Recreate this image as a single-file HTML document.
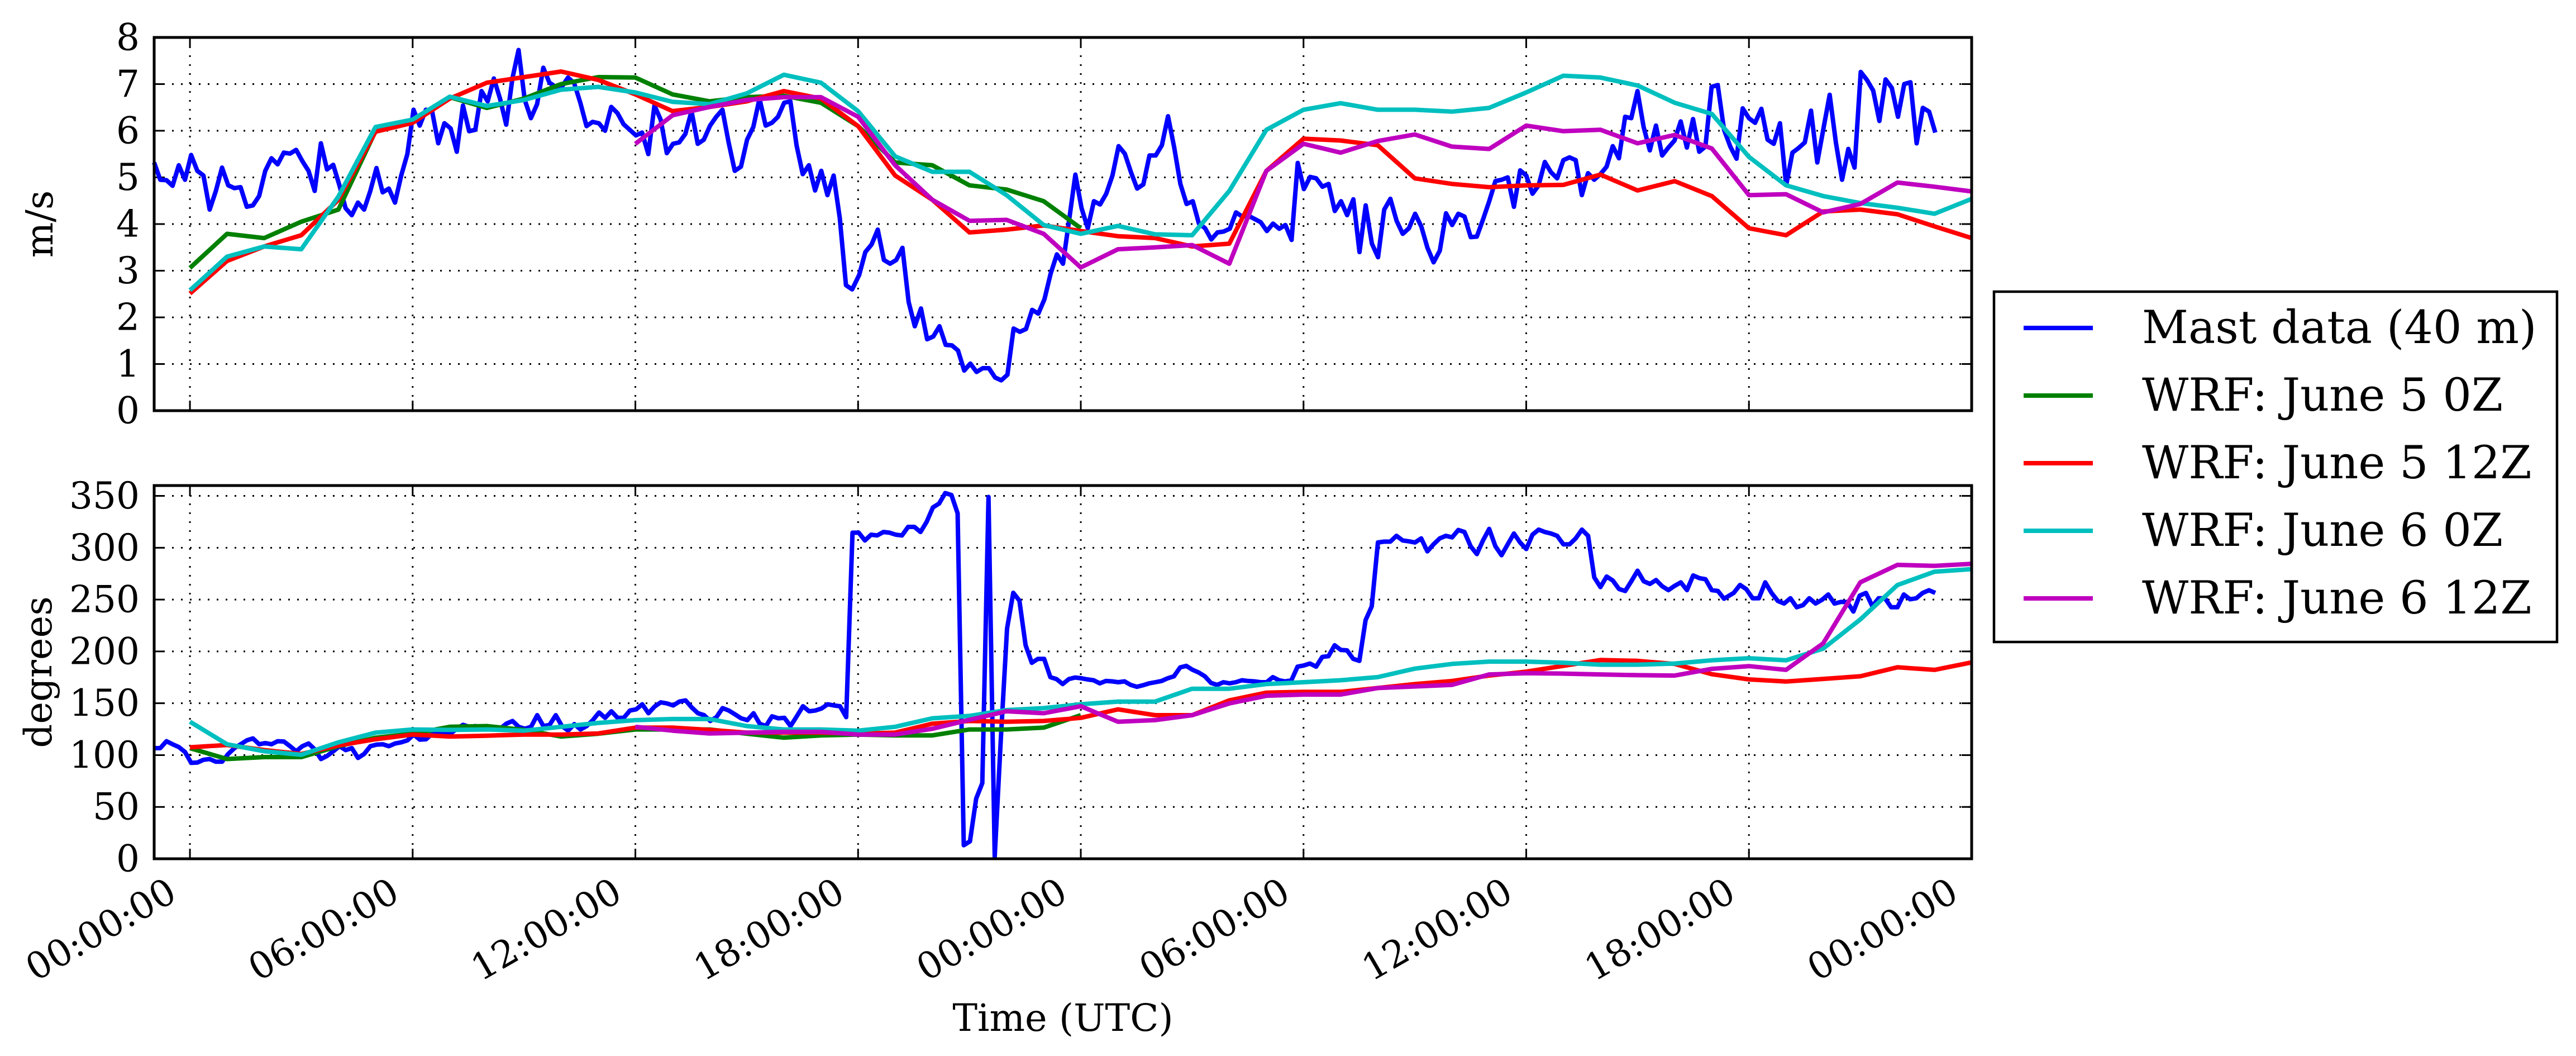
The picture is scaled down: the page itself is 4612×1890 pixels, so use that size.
<!DOCTYPE html>
<html><head><meta charset="utf-8"><style>
html,body{margin:0;padding:0;background:#fff;}
svg{display:block;font-family:"DejaVu Serif","Liberation Serif",serif;}
</style></head><body>
<svg id="chart" width="4612" height="1890" viewBox="0 0 4612 1890" xmlns="http://www.w3.org/2000/svg">
<rect width="4612" height="1890" fill="#fff"/>
<g id="top"></g>
<g id="bot"></g>
<text x="0" y="0" font-size="67" text-anchor="middle" dominant-baseline="central" transform="translate(71,401) rotate(-90)">m/s</text>
<text x="0" y="0" font-size="67" text-anchor="middle" dominant-baseline="central" transform="translate(69,1203) rotate(-90)">degrees</text>
<text x="1903" y="1822" font-size="67" text-anchor="middle" dominant-baseline="central">Time (UTC)</text>
<g id="legend"></g>
</svg>
<script>
// ---- data ----
const xTickHours = [0,6,12,18,24,30,36,42,48];
const xTickLabels = ["00:00:00","06:00:00","12:00:00","18:00:00","00:00:00","06:00:00","12:00:00","18:00:00","00:00:00"];
const speedTicks = [0,1,2,3,4,5,6,7,8];
const dirTicks = [0,50,100,150,200,250,300,350];
const seriesNames = ["Mast data (40 m)","WRF: June 5 0Z","WRF: June 5 12Z","WRF: June 6 0Z","WRF: June 6 12Z"];
const seriesColors = ["#0000ff","#008000","#ff0000","#00bfbf","#bf00bf"];

// mast data: segments [startHour, endHour] with evenly spaced samples
const mastSpdSegHours = [[-0.966,17.84],[18.03,41.16],[41.33,47.02]];
const mastSpdA = [5.32,4.95,4.94,4.82,5.26,4.95,5.48,5.14,5.04,4.31,4.71,5.21,4.83,4.77,4.79,4.37,4.40,4.60,5.14,5.41,5.28,5.53,5.51,5.59,5.35,5.14,4.71,5.73,5.17,5.27,4.83,4.34,4.19,4.46,4.31,4.71,5.20,4.68,4.76,4.46,5.04,5.50,6.45,6.11,6.45,6.42,5.73,6.16,6.05,5.55,6.54,5.99,6.02,6.85,6.63,7.12,6.69,6.13,7.12,7.73,6.66,6.27,6.57,7.35,7.03,6.94,6.94,7.14,7.02,6.60,6.10,6.19,6.16,6.00,6.51,6.38,6.14,6.02,5.90,5.96,5.50,6.54,6.24,5.52,5.72,5.75,5.93,6.42,5.72,5.81,6.11,6.30,6.45,5.75,5.14,5.23,5.81,6.08,6.69,6.11,6.17,6.30,6.60,6.63,5.69,5.07,5.26,4.72,5.14,4.62,5.04,4.13,2.69,2.60];
const mastSpdB = [2.91,3.40,3.56,3.88,3.23,3.15,3.23,3.49,2.33,1.81,2.19,1.53,1.59,1.81,1.41,1.40,1.29,0.86,1.01,0.83,0.91,0.91,0.71,0.65,0.77,1.76,1.69,1.75,2.16,2.08,2.39,2.94,3.35,3.15,4.10,5.06,4.34,3.91,4.49,4.42,4.65,5.04,5.67,5.51,5.11,4.76,4.85,5.47,5.47,5.69,6.31,5.64,4.86,4.43,4.49,4.01,3.91,3.67,3.82,3.84,3.90,4.25,4.16,4.18,4.11,4.04,3.85,4.01,3.90,3.98,3.66,5.31,4.75,5.01,4.98,4.80,4.86,4.28,4.49,4.19,4.53,3.40,4.40,3.58,3.29,4.31,4.54,4.07,3.79,3.91,4.22,3.95,3.49,3.18,3.43,4.23,3.98,4.22,4.16,3.72,3.73,4.10,4.49,4.92,4.95,5.00,4.37,5.15,5.04,4.65,4.83,5.33,5.11,4.98,5.37,5.43,5.37,4.62,5.09,4.95,5.07,5.23,5.67,5.41,6.30,6.27,6.85,6.08,5.58,6.11,5.47,5.64,5.79,6.20,5.64,6.25,5.55,5.66,6.94,6.98];
const mastSpdC = [6.02,5.66,5.40,6.48,6.27,6.17,6.47,5.81,5.72,6.16,4.83,5.53,5.63,5.75,6.43,5.32,6.05,6.77,5.75,4.95,5.61,5.21,7.26,7.09,6.86,6.21,7.10,6.92,6.30,7.00,7.04,5.73,6.49,6.41,5.96];
const mastDirSegHours = [[-0.966,17.68],[17.85,41.33],[41.59,47.02]];
const mastDirA = [106.7,106.7,113.4,110.4,107.8,103,92.5,92.8,95.5,96.2,93.6,93.6,101.1,106.7,110.4,114.2,116.1,110.4,111.6,110.4,113.4,113.1,108.6,103.7,108.6,111.2,105.6,96.2,99.2,103.7,108.6,104.8,106.7,97.3,101.1,108.6,110.1,110.4,108.6,111.2,112.3,114.2,119.8,114.9,115.3,120.6,120.6,121.7,120.9,125.4,129.2,127.3,128,125.4,127.3,125.4,125.4,130.3,132.9,127.3,125.4,127.3,138.5,128,129.2,138.5,128,123.6,129.9,124.7,128,133.7,141.1,135.9,142.3,135.9,135.9,143,144.1,149,140.4,146.8,150.9,149.8,147.9,151.6,152.8,146,140.4,138.5,132.9,136.6,145.3,143,139.3,135.5,133.7,140.4,130.3,128,137.4,135.5,135.9,128,137.4,147.1,142.3,143,144.9,149,147.9,147.1,136.6];
const mastDirB = [314.5,314.5,307,312.6,311.9,315.2,314.5,312.6,311.9,320.1,320.1,315.2,325,338.8,342.6,352.7,350.9,333.2,13.1,16.8,58,73,349,1.9,116,222,256.5,249,206,189,192.8,192.8,175.2,173.3,168.5,173.3,174.8,174.1,173,172.2,169.2,171.5,171.1,170.3,171.1,167.7,165.9,167.4,169.2,170.3,171.5,174.1,176,184.6,186.1,182.3,179.7,176,169.6,167.7,170.3,169.2,170.3,172.2,171.5,171.1,170.3,170.3,175.2,172.2,171.1,172.2,185.3,186.4,188.3,185.3,194.7,195.4,205.9,201.4,201,192.8,190.9,230.2,243.4,305.1,305.9,305.9,311.5,307,306.2,305.1,309,296.5,303.3,309,311.5,310,317.1,315.2,301.4,293.9,307,318.2,301.4,292.8,303.3,313.7,305.1,298.8,312.6,317.5,315.2,313.7,311.5,303.3,303.3,309,317.5,311.5,271.4,262.1,272.2,268.4,260.2,258.3,267.7,277.8,267.7,265.1,268.8,262.8,259.1,263.2,266.6,259.1,273.3,270.7,269.6,259.1,258.3,250.8];
const mastDirC = [256.4,264.1,260,251.3,251.3,266.6,256.4,248.7,246.2,251.3,242.6,244.6,251.3,246.2,249.7,254.9,246.2,247.7,247.7,238.5,253.8,256.4,243.6,251.3,251.3,242.6,242.6,254.9,250.3,251.3,256.4,259,256.4];

// WRF forecasts: hourly values from start hour
const wrfStartHours = [0,0,0,12];
const j50Spd = [3.06,3.79,3.70,4.05,4.31,5.99,6.2,6.72,6.49,6.69,7.0,7.15,7.14,6.78,6.63,6.72,6.75,6.6,6.1,5.32,5.26,4.83,4.74,4.49,3.91];
const j512Spd = [2.51,3.21,3.52,3.76,4.52,5.98,6.17,6.69,7.03,7.15,7.27,7.09,6.78,6.42,6.51,6.63,6.85,6.69,6.1,5.04,4.52,3.82,3.88,3.97,3.85,3.74,3.70,3.52,3.58,5.14,5.83,5.79,5.69,4.98,4.86,4.79,4.83,4.84,5.06,4.72,4.92,4.6,3.91,3.76,4.27,4.31,4.21,3.95,3.70];
const j60Spd = [2.58,3.30,3.52,3.46,4.59,6.08,6.24,6.73,6.53,6.66,6.88,6.94,6.82,6.62,6.57,6.8,7.2,7.03,6.42,5.45,5.12,5.12,4.62,3.98,3.79,3.96,3.78,3.76,4.71,6.02,6.45,6.59,6.45,6.45,6.41,6.49,6.82,7.18,7.14,6.97,6.60,6.36,5.44,4.83,4.60,4.45,4.35,4.22,4.54];
const j612Spd = [5.72,6.33,6.51,6.66,6.72,6.72,6.3,5.26,4.52,4.07,4.09,3.79,3.07,3.46,3.50,3.55,3.15,5.14,5.72,5.53,5.78,5.92,5.66,5.61,6.11,5.99,6.02,5.73,5.91,5.62,4.62,4.64,4.25,4.43,4.89,4.80,4.70];
const j50Dir = [106.7,96.2,98.1,98.1,108.6,116.8,120.6,127.3,128,124.3,117.9,120.6,124.7,124.7,124.7,120.6,116.8,119,119.8,119,119,124.7,124.7,126.5,138.5];
const j512Dir = [107.5,109.7,104.8,101.1,109.3,115.3,119.8,117.9,118.7,119.8,119.8,120.9,126.5,126.5,124.3,121.7,121.7,121.7,120.6,121.7,130.3,132.9,132.2,132.9,135.9,144.1,138.5,138.5,152.8,160.2,161,161,164.7,168.5,171.5,176.7,180.5,186.1,191.7,190.9,187.9,178,173,171,173.5,176,184.7,182.2,189.4];
const j60Dir = [132.2,110.4,103.7,100.3,112.3,121.7,124.7,124.3,124.7,123.6,127.3,131,133.7,134.8,134.8,128,124.7,124.7,123.6,127.3,135.5,137.8,143.4,145.3,149,151.6,151.6,164,164,168.5,170.3,172.2,175.2,183.4,187.9,190.2,190.2,189.1,187.2,187.2,188.3,191.4,193.4,191.4,202.7,230.8,264,276.9,279.4];
const j612Dir = [127.3,123.6,120.9,121.7,122.4,122.4,119.8,119.8,125.4,134,142.3,140.4,147.1,132.2,133.7,138.5,149.8,157.2,158.4,158.4,164.7,166.2,167.7,177.8,179,178.6,177.8,177.1,176.7,183.2,185.8,182.2,207.8,266.6,283.5,282.5,284.5];

// ---- layout ----
const NS = "http://www.w3.org/2000/svg";
const X0 = 276, X1 = 3530, H0 = -0.964, H1 = 48;
const LW = 8;
function xs(h){ return X0 + (h - H0) / (H1 - H0) * (X1 - X0); }
function mk(tag, attrs, parent){ const e = document.createElementNS(NS, tag); for (const k in attrs) e.setAttribute(k, attrs[k]); parent.appendChild(e); return e; }

function segPoints(segHours, arrays){
  const pts = [];
  arrays.forEach((arr, i) => {
    const [a, b] = segHours[i];
    const n = arr.length;
    arr.forEach((v, j) => pts.push([a + (b - a) * j / (n - 1), v]));
  });
  return pts;
}
function hourly(start, arr){ return arr.map((v, j) => [start + j, v]); }

function panel(g, top, bottom, ymax, yticks, series, showXLabels, prefix){
  const ys = v => bottom - v / ymax * (bottom - top);
  yticks.forEach(t => {
    const y = ys(t);
    const gl = mk("line", {x1:X0, x2:X1, y1:y, y2:y, stroke:"#000", "stroke-width":3, "stroke-dasharray":"3 13"}, g);
    
    
    const t1 = mk("line", {x1:X0, x2:X0+18, y1:y, y2:y, stroke:"#000", "stroke-width":3}, g);
    
    
    const t2 = mk("line", {x1:X1-18, x2:X1, y1:y, y2:y, stroke:"#000", "stroke-width":3}, g);
    
    
    const lb = mk("text", {x:250, y:y, "font-size":66, "text-anchor":"end", "dominant-baseline":"central"}, g);
    lb.textContent = String(t);
    
    
  });
  xTickHours.forEach((h, i) => {
    const x = xs(h);
    if (h < 48) {
      const gl = mk("line", {x1:x, x2:x, y1:top, y2:bottom, stroke:"#000", "stroke-width":3, "stroke-dasharray":"3 13"}, g);
      
      
      const t1 = mk("line", {x1:x, x2:x, y1:bottom-18, y2:bottom, stroke:"#000", "stroke-width":3}, g);
      
      
      const t2 = mk("line", {x1:x, x2:x, y1:top, y2:top+18, stroke:"#000", "stroke-width":3}, g);
      
      
    }
    if (showXLabels) {
      const ax = x - 20, ay = bottom + 72;
      const lb = mk("text", {x:0, y:0, "font-size":66, "text-anchor":"end", transform:`translate(${ax},${ay}) rotate(-30)`}, g);
      lb.textContent = xTickLabels[i];
      
      
    }
  });
  series.forEach((pts, i) => {
    const d = pts.map((p, j) => (j ? "L" : "M") + xs(p[0]).toFixed(1) + "," + ys(p[1]).toFixed(1)).join("");
    const path = mk("path", {d:d, fill:"none", stroke:seriesColors[i], "stroke-width":LW, "stroke-linejoin":"round"}, g);
    
    
  });
  const fr = mk("rect", {x:X0, y:top, width:X1-X0, height:bottom-top, fill:"none", stroke:"#000", "stroke-width":5}, g);
  
  
}

panel(document.getElementById("top"), 67, 735, 8, speedTicks, [
  segPoints(mastSpdSegHours, [mastSpdA, mastSpdB, mastSpdC]),
  hourly(wrfStartHours[0], j50Spd),
  hourly(wrfStartHours[1], j512Spd),
  hourly(wrfStartHours[2], j60Spd),
  hourly(wrfStartHours[3], j612Spd)
], false, "speed");

panel(document.getElementById("bot"), 869, 1537, 360, dirTicks, [
  segPoints(mastDirSegHours, [mastDirA, mastDirB, mastDirC]),
  hourly(wrfStartHours[0], j50Dir),
  hourly(wrfStartHours[1], j512Dir),
  hourly(wrfStartHours[2], j60Dir),
  hourly(wrfStartHours[3], j612Dir)
], true, "direction");

const lg = document.getElementById("legend");
const box = mk("rect", {x:3570, y:522, width:1008, height:627, fill:"#fff", stroke:"#000", "stroke-width":4.5}, lg);


seriesNames.forEach((name, i) => {
  const y = 587 + i * 121;
  const ln = mk("line", {x1:3623, x2:3747, y1:y, y2:y, stroke:seriesColors[i], "stroke-width":LW}, lg);
  
  
  const tx = mk("text", {x:3835, y:y, "font-size":81, "dominant-baseline":"central"}, lg);
  tx.textContent = name;
  
  
});
</script>
</body></html>
